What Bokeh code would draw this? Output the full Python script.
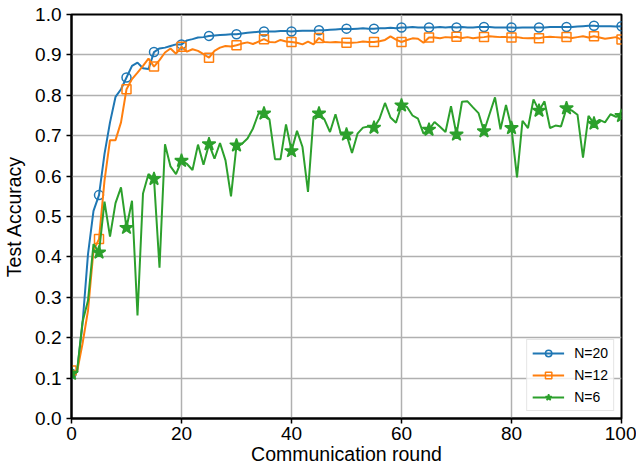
from bokeh.plotting import figure
from bokeh.models import Range1d, FixedTicker, PrintfTickFormatter, Legend, LegendItem
from bokeh.embed import file_html
from bokeh.resources import INLINE

rounds = list(range(101))

acc_n20 = [0.111, 0.115, 0.234, 0.407, 0.514, 0.553, 0.655, 0.733, 0.796, 0.815,
           0.844, 0.873, 0.881, 0.867, 0.865, 0.907, 0.916, 0.918, 0.922, 0.926,
           0.926, 0.936, 0.939, 0.943, 0.944, 0.947, 0.948, 0.949, 0.950, 0.951,
           0.951, 0.953, 0.955, 0.956, 0.957, 0.958, 0.958, 0.958, 0.959, 0.959,
           0.958, 0.959, 0.960, 0.960, 0.960, 0.961, 0.961, 0.962, 0.963, 0.964,
           0.965, 0.964, 0.965, 0.966, 0.965, 0.965, 0.966, 0.966, 0.967, 0.966,
           0.968, 0.968, 0.969, 0.968, 0.968, 0.968, 0.968, 0.969, 0.968, 0.969,
           0.968, 0.969, 0.968, 0.968, 0.969, 0.969, 0.969, 0.968, 0.968, 0.968,
           0.968, 0.967, 0.968, 0.968, 0.968, 0.968, 0.968, 0.969, 0.969, 0.969,
           0.969, 0.969, 0.970, 0.971, 0.972, 0.972, 0.971, 0.971, 0.971, 0.970,
           0.971]

acc_n12 = [0.119, 0.115, 0.185, 0.267, 0.416, 0.444, 0.589, 0.689, 0.689, 0.733,
           0.815, 0.840, 0.856, 0.873, 0.891, 0.871, 0.887, 0.906, 0.916, 0.903,
           0.920, 0.908, 0.914, 0.910, 0.902, 0.893, 0.910, 0.918, 0.922, 0.921,
           0.924, 0.928, 0.931, 0.927, 0.933, 0.939, 0.932, 0.931, 0.937, 0.933,
           0.932, 0.930, 0.926, 0.933, 0.926, 0.942, 0.932, 0.931, 0.932, 0.931,
           0.930, 0.930, 0.931, 0.933, 0.932, 0.932, 0.934, 0.937, 0.946, 0.938,
           0.932, 0.937, 0.941, 0.940, 0.930, 0.943, 0.943, 0.941, 0.944, 0.943,
           0.945, 0.942, 0.944, 0.941, 0.943, 0.944, 0.946, 0.945, 0.944, 0.944,
           0.943, 0.944, 0.942, 0.941, 0.942, 0.941, 0.944, 0.945, 0.944, 0.943,
           0.944, 0.942, 0.944, 0.946, 0.943, 0.946, 0.943, 0.940, 0.942, 0.944,
           0.938]

acc_n6 = [0.111, 0.115, 0.239, 0.292, 0.432, 0.411, 0.537, 0.450, 0.533, 0.572,
          0.472, 0.539, 0.255, 0.557, 0.605, 0.593, 0.373, 0.679, 0.624, 0.605,
          0.638, 0.630, 0.615, 0.678, 0.628, 0.679, 0.643, 0.682, 0.639, 0.550,
          0.676, 0.680, 0.693, 0.718, 0.755, 0.755, 0.740, 0.642, 0.642, 0.728,
          0.662, 0.712, 0.672, 0.561, 0.746, 0.755, 0.740, 0.709, 0.753, 0.703,
          0.703, 0.657, 0.705, 0.720, 0.723, 0.720, 0.742, 0.781, 0.745, 0.732,
          0.775, 0.771, 0.750, 0.742, 0.705, 0.715, 0.734, 0.722, 0.709, 0.773,
          0.703, 0.784, 0.785, 0.770, 0.756, 0.711, 0.753, 0.795, 0.716, 0.776,
          0.719, 0.597, 0.737, 0.719, 0.790, 0.762, 0.785, 0.719, 0.725, 0.723,
          0.768, 0.762, 0.752, 0.646, 0.749, 0.730, 0.739, 0.733, 0.753, 0.747,
          0.749]

series_labels = ["N=20", "N=12", "N=6"]
x_ticks = [0, 20, 40, 60, 80, 100]
y_ticks = [0.0, 0.1, 0.2, 0.3, 0.4, 0.5, 0.6, 0.7, 0.8, 0.9, 1.0]
marker_every = 5

FONT = "Liberation Sans"

p = figure(width=636, height=470, output_backend="svg", toolbar_location=None,
           x_range=Range1d(0, 100), y_range=Range1d(0, 1),
           min_border_left=71, min_border_right=15, min_border_top=14, min_border_bottom=52,
           background_fill_color="white", border_fill_color="white")

p.outline_line_color = "black"
p.outline_line_width = 2

for ax in (p.xaxis[0], p.yaxis[0]):
    ax.axis_line_color = "black"
    ax.axis_line_width = 2
    ax.major_tick_line_color = "black"
    ax.major_tick_line_width = 1.5
    ax.major_tick_out = 5
    ax.major_tick_in = 0
    ax.minor_tick_line_color = None
    ax.major_label_text_font = FONT
    ax.major_label_text_font_size = "19px"
    ax.major_label_text_color = "black"
    ax.axis_label_text_font = FONT
    ax.axis_label_text_font_size = "19.5px"
    ax.axis_label_text_font_style = "normal"
    ax.axis_label_text_color = "black"

p.xaxis.ticker = FixedTicker(ticks=x_ticks)
p.yaxis.ticker = FixedTicker(ticks=y_ticks)
p.yaxis.formatter = PrintfTickFormatter(format="%.1f")
p.xaxis.axis_label = "Communication round"
p.yaxis.axis_label = "Test Accuracy"
p.xaxis.major_label_standoff = 3
p.yaxis.major_label_standoff = 5
p.xaxis.axis_label_standoff = 0
p.yaxis.axis_label_standoff = 7

p.xgrid.grid_line_color = "#b0b0b0"
p.ygrid.grid_line_color = "#b0b0b0"
p.xgrid.grid_line_width = 1.5
p.ygrid.grid_line_width = 1.5

colors = ["#1f77b4", "#ff7f0e", "#2ca02c"]
markers = ["circle", "square", "star"]
sizes = [9, 9, 14]
fills = [None, None, "#2ca02c"]
series = [acc_n20, acc_n12, acc_n6]

items = []
for lab, ys, col, mk, sz, fc in zip(series_labels, series, colors, markers, sizes, fills):
    r_line = p.line(rounds, ys, line_color=col, line_width=2)
    mx = rounds[::marker_every]
    my = ys[::marker_every]
    r_pts = p.scatter(mx, my, marker=mk, size=sz, line_color=col, line_width=1.5,
                      fill_color=fc)
    items.append(LegendItem(label=lab, renderers=[r_line, r_pts]))

legend = Legend(items=items, location="bottom_right")
legend.label_text_font = FONT
legend.label_text_font_size = "14px"
legend.label_text_color = "black"
legend.glyph_width = 32
legend.glyph_height = 16
legend.label_height = 16
legend.spacing = 6
legend.padding = 5
legend.margin = 7
legend.label_standoff = 10
legend.border_line_color = "#cccccc"
legend.border_line_width = 1
legend.background_fill_color = "white"
legend.background_fill_alpha = 0.8
p.add_layout(legend)

open("out.html", "w").write(file_html(p, INLINE))
